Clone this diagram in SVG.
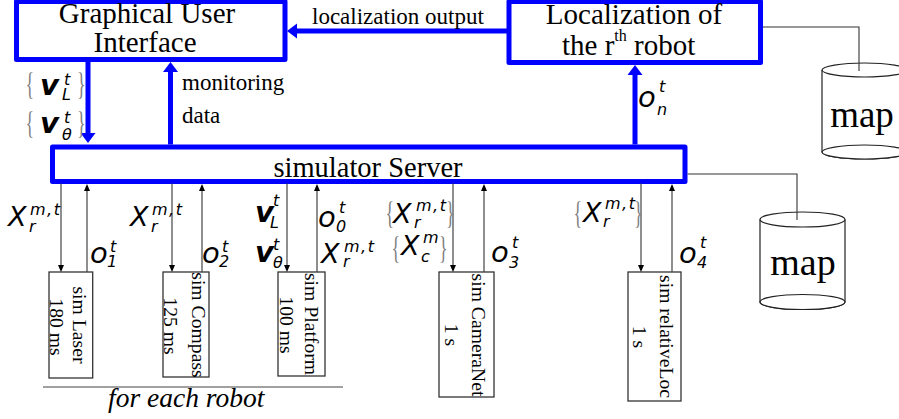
<svg xmlns="http://www.w3.org/2000/svg" width="899" height="419" viewBox="0 0 899 419">
  <defs>
    <style>
      .blue{fill:#fff;stroke:#0000ff;stroke-width:5;stroke-linejoin:round}
      .bl{fill:none;stroke:#0000ff;stroke-width:5}
      .thin{fill:none;stroke:#444;stroke-width:1.2}
      .wire{fill:none;stroke:#333;stroke-width:1.1}
      .sim{fill:#fff;stroke:#333;stroke-width:1.3}
      .cyl{fill:#fff;stroke:#222;stroke-width:1.2}
      .serif{font-family:"Liberation Serif","Times New Roman",serif;fill:#000}
      .math{font-family:"DejaVu Sans","Noto Sans",sans-serif;font-style:oblique;fill:#000}
      .o{font-size:29px}
      .x{font-size:27px}
      .v{font-size:29px;font-weight:bold}
      .s{font-size:16px}
      .mt{font-size:16px;letter-spacing:1.5px}
      .brace{font-family:"Liberation Serif","Times New Roman",serif;font-size:24px;fill:#808080}
    </style>
    <marker id="headBlue" markerUnits="userSpaceOnUse" viewBox="0 -8 11 16" markerWidth="11" markerHeight="16" refX="0" refY="0" orient="auto" overflow="visible">
      <path d="M0,-7.5 L10,0 L0,7.5 z" fill="#0000ff"/>
    </marker>
    <marker id="headThin" markerUnits="userSpaceOnUse" viewBox="0 -4 8 8" markerWidth="8" markerHeight="8" refX="0" refY="0" orient="auto" overflow="visible">
      <path d="M0,-3 L7,0 L0,3 z" fill="#000"/>
    </marker>
  </defs>

  <rect width="899" height="419" fill="#fff"/>

  <!-- GUI -->
  <g id="gui">
    <rect class="blue" x="16.5" y="1.5" width="268.5" height="58"/>
    <text class="serif" font-size="29" text-anchor="middle" x="147" y="23">Graphical User</text>
    <text class="serif" font-size="29" text-anchor="middle" x="145" y="52">Interface</text>
  </g>

  <!-- localization module -->
  <g id="localization">
    <rect class="blue" x="509" y="1.5" width="251.5" height="61"/>
    <text class="serif" font-size="29" text-anchor="middle" x="634" y="24">Localization of</text>
    <text class="serif" font-size="29" x="562" y="55">the r<tspan font-size="16" dy="-14">th</tspan><tspan dy="14"> robot</tspan></text>
  </g>

  <!-- simulator server -->
  <g id="server">
    <rect class="blue" x="52.5" y="147" width="632.5" height="34.5"/>
    <text class="serif" font-size="28.5" text-anchor="middle" x="368" y="176.5">simulator Server</text>
  </g>

  <!-- map stores -->
  <g id="map-top">
    <path class="cyl" d="M822,70 V152 A42.5,7 0 0 0 907,152 V70"/>
    <ellipse class="cyl" cx="864.5" cy="152" rx="42.5" ry="7" fill="none"/>
    <ellipse class="cyl" cx="864.5" cy="70" rx="42.5" ry="7" fill="none"/>
    <text class="serif" font-size="37" text-anchor="middle" x="862" y="127">map</text>
  </g>
  <g id="map-bottom">
    <path class="cyl" d="M760,219.5 V302 A42.5,7.5 0 0 0 845,302 V219.5"/>
    <ellipse class="cyl" cx="802.5" cy="302" rx="42.5" ry="7.5" fill="none"/>
    <ellipse class="cyl" cx="802.5" cy="219.5" rx="42.5" ry="7.5" fill="none"/>
    <text class="serif" font-size="38" text-anchor="middle" x="803" y="275">map</text>
  </g>

  <!-- simulated sensors -->
  <g id="sim-laser">
    <rect class="sim" x="49" y="272" width="43.7" height="106"/>
    <text class="serif" font-size="19.7" text-anchor="middle" transform="translate(72.5,325) rotate(90)">sim Laser</text>
    <text class="serif" font-size="19.7" text-anchor="middle" transform="translate(49.5,327) rotate(90)">180 ms</text>
  </g>
  <g id="sim-compass">
    <rect class="sim" x="163" y="272" width="46" height="105"/>
    <text class="serif" font-size="19.7" text-anchor="middle" transform="translate(192,325) rotate(90)">sim Compass</text>
    <text class="serif" font-size="19.7" text-anchor="middle" transform="translate(164,326) rotate(90)">125 ms</text>
  </g>
  <g id="sim-platform">
    <rect class="sim" x="278" y="272" width="47" height="104"/>
    <text class="serif" font-size="19.7" text-anchor="middle" transform="translate(305,324) rotate(90)">sim Platform</text>
    <text class="serif" font-size="19.7" text-anchor="middle" transform="translate(279.5,325) rotate(90)">100 ms</text>
  </g>
  <g id="sim-cameranet">
    <rect class="sim" x="439" y="272" width="55" height="125"/>
    <text class="serif" font-size="19.7" text-anchor="middle" transform="translate(472,335) rotate(90)">sim CameraNet</text>
    <text class="serif" font-size="19.7" text-anchor="middle" transform="translate(444.5,335) rotate(90)">1 s</text>
  </g>
  <g id="sim-relativeloc">
    <rect class="sim" x="628" y="272" width="53" height="129"/>
    <text class="serif" font-size="19.7" text-anchor="middle" transform="translate(660,336.5) rotate(90)">sim relativeLoc</text>
    <text class="serif" font-size="19.7" text-anchor="middle" transform="translate(633,337) rotate(90)">1 s</text>
  </g>

  <!-- per-robot bracket -->
  <g id="robot-scope">
    <line class="thin" x1="43" y1="387" x2="343" y2="387"/>
    <text class="serif" font-size="27.5" font-style="italic" x="108" y="407">for each robot</text>
  </g>

  <!-- connectors -->
  <g id="connectors">
    <line class="bl" x1="509" y1="31" x2="297" y2="31" marker-end="url(#headBlue)"/>
    <line class="bl" x1="88" y1="61.5" x2="88" y2="133" marker-end="url(#headBlue)"/>
    <line class="bl" x1="170.5" y1="144.5" x2="170.5" y2="72" marker-end="url(#headBlue)"/>
    <line class="bl" x1="635" y1="144.5" x2="635" y2="75" marker-end="url(#headBlue)"/>

    <path class="wire" d="M763,27 H859 V71"/>
    <path class="wire" d="M687.5,174 H797 V220"/>

    <line class="thin" x1="61" y1="183.5" x2="61" y2="265" marker-end="url(#headThin)"/>
    <line class="thin" x1="87" y1="272" x2="87" y2="191" marker-end="url(#headThin)"/>
    <line class="thin" x1="172" y1="183.5" x2="172" y2="265" marker-end="url(#headThin)"/>
    <line class="thin" x1="202" y1="272" x2="202" y2="191" marker-end="url(#headThin)"/>
    <line class="thin" x1="287" y1="183.5" x2="287" y2="265" marker-end="url(#headThin)"/>
    <line class="thin" x1="317" y1="272" x2="317" y2="191" marker-end="url(#headThin)"/>
    <line class="thin" x1="453" y1="183.5" x2="453" y2="265" marker-end="url(#headThin)"/>
    <line class="thin" x1="484" y1="272" x2="484" y2="191" marker-end="url(#headThin)"/>
    <line class="thin" x1="641" y1="183.5" x2="641" y2="265" marker-end="url(#headThin)"/>
    <line class="thin" x1="672" y1="272" x2="672" y2="191" marker-end="url(#headThin)"/>
  </g>

  <!-- connector labels -->
  <g id="labels">
    <text class="serif" font-size="23" x="312" y="24">localization output</text>
    <text class="serif" font-size="23" x="182" y="90">monitoring</text>
    <text class="serif" font-size="23" x="182" y="123">data</text>

    <!-- velocity commands from GUI -->
    <text class="brace" transform="translate(25.5,95) scale(0.75,1.35)">{</text>
    <text class="math v" x="40" y="95">v</text>
    <text class="math s" x="64" y="85">t</text>
    <text class="math s" x="62" y="100">L</text>
    <text class="brace" transform="translate(77,95) scale(0.75,1.35)">}</text>
    <text class="brace" transform="translate(25.5,134) scale(0.75,1.35)">{</text>
    <text class="math v" x="40" y="133">v</text>
    <text class="math s" x="64" y="123">t</text>
    <text class="math s" x="62" y="140">θ</text>
    <text class="brace" transform="translate(77,134) scale(0.75,1.35)">}</text>

    <!-- observation to localization -->
    <text class="math o" x="638" y="107">o</text>
    <text class="math s" x="659" y="92">t</text>
    <text class="math s" x="657" y="115">n</text>

    <!-- laser -->
    <text class="math x" x="8" y="226">X</text>
    <text class="math mt" x="30" y="215">m,t</text>
    <text class="math s" x="29" y="232">r</text>
    <text class="math o" x="90" y="263">o</text>
    <text class="math s" x="110" y="252">t</text>
    <text class="math s" x="107" y="267">1</text>

    <!-- compass -->
    <text class="math x" x="130" y="226">X</text>
    <text class="math mt" x="152" y="215">m,t</text>
    <text class="math s" x="151" y="232">r</text>
    <text class="math o" x="202" y="263">o</text>
    <text class="math s" x="222" y="252">t</text>
    <text class="math s" x="219" y="267">2</text>

    <!-- platform -->
    <text class="math v" x="255" y="222">v</text>
    <text class="math s" x="273" y="206">t</text>
    <text class="math s" x="270" y="228">L</text>
    <text class="math v" x="255" y="262">v</text>
    <text class="math s" x="273" y="250">t</text>
    <text class="math s" x="273" y="268">θ</text>
    <text class="math o" x="318" y="227">o</text>
    <text class="math s" x="339" y="213">t</text>
    <text class="math s" x="336" y="232">0</text>
    <text class="math x" x="321" y="263">X</text>
    <text class="math mt" x="344" y="252">m,t</text>
    <text class="math s" x="343" y="267">r</text>

    <!-- camera network -->
    <text class="brace" transform="translate(385.5,224) scale(0.75,1.35)">{</text>
    <text class="math x" x="393" y="223">X</text>
    <text class="math mt" x="416" y="211">m,t</text>
    <text class="math s" x="414" y="228">r</text>
    <text class="brace" transform="translate(446,224) scale(0.75,1.35)">}</text>
    <text class="brace" transform="translate(391.5,259) scale(0.75,1.35)">{</text>
    <text class="math x" x="401" y="255">X</text>
    <text class="math s" x="423" y="243">m</text>
    <text class="math s" x="421" y="262">c</text>
    <text class="brace" transform="translate(439,259) scale(0.75,1.35)">}</text>
    <text class="math o" x="491" y="262">o</text>
    <text class="math s" x="512" y="248">t</text>
    <text class="math s" x="509" y="268">3</text>

    <!-- relative localization -->
    <text class="brace" transform="translate(573.5,224) scale(0.75,1.35)">{</text>
    <text class="math x" x="583" y="222">X</text>
    <text class="math mt" x="605" y="209">m,t</text>
    <text class="math s" x="603" y="227">r</text>
    <text class="brace" transform="translate(634,224) scale(0.75,1.35)">}</text>
    <text class="math o" x="679" y="263">o</text>
    <text class="math s" x="700" y="248">t</text>
    <text class="math s" x="697" y="268">4</text>
  </g>
</svg>
